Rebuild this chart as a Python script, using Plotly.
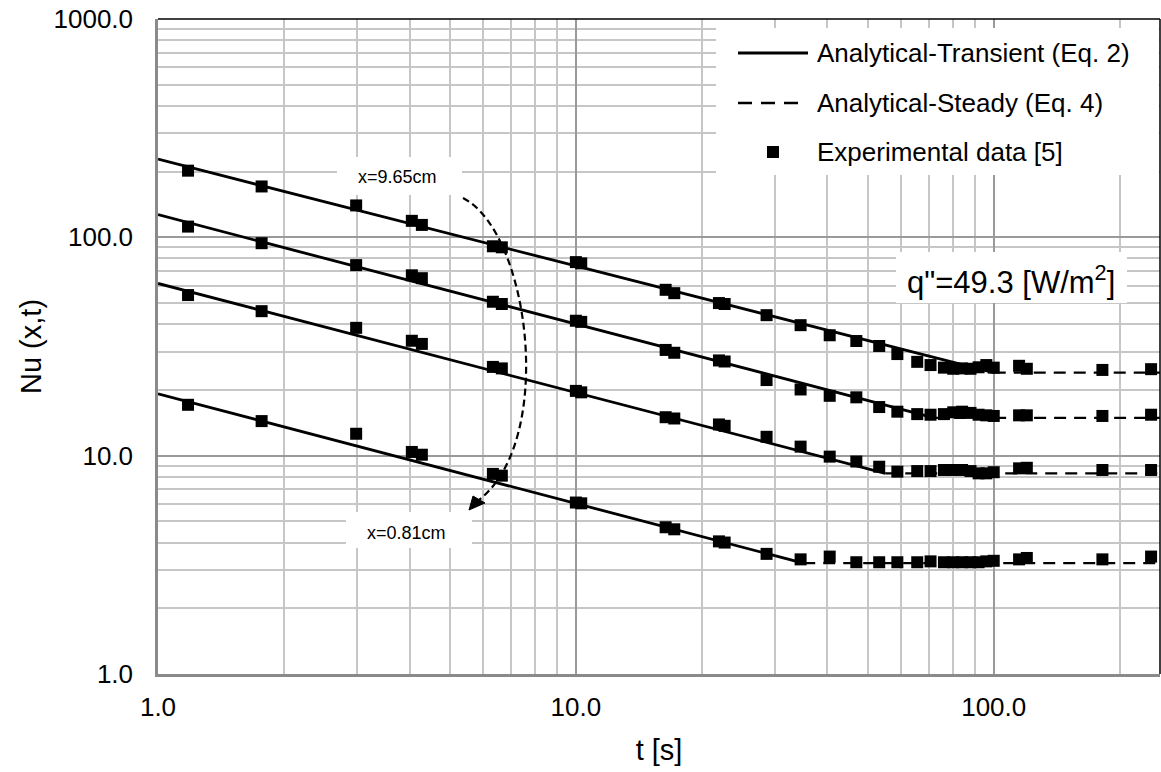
import plotly.graph_objects as go

# ---------------- data ----------------
x_tickvals = [1, 10, 100]
x_ticktext = ["1.0", "10.0", "100.0"]
y_tickvals = [1, 10, 100, 1000]
y_ticktext = ["1.0", "10.0", "100.0", "1000.0"]

# experimental times [s]
t_exp = [1.18, 1.77, 2.98, 4.05, 4.28, 6.33, 6.65, 10.0, 10.3, 16.4, 17.2, 22.0, 22.7,
         28.6, 34.5, 40.5, 46.9, 53.2, 58.8, 65.6, 70.6, 76, 80, 84, 88, 92, 96, 100,
         115, 120, 182, 238]

# experimental Nu, from top curve (x=9.65cm) to bottom curve (x=0.81cm)
nu_exp_965 = [202, 171, 140, 119, 114, 91, 90, 77, 76, 57.5, 55.5, 50, 49.5,
              44, 39.6, 35.6, 33.5, 31.8, 29.2, 26.9, 26.0, 25.3, 25.0, 25.1, 25.0, 25.4, 26.0, 25.3,
              25.8, 25.0, 24.7, 24.9]
nu_exp_b = [112, 94, 74.6, 67, 65, 50.7, 49.5, 41.5, 41.0, 30.5, 29.6, 27.3, 27.0,
            22.2, 20.1, 18.8, 18.5, 16.7, 15.9, 15.5, 15.4, 15.5, 15.8, 15.9, 15.7, 15.4, 15.3, 15.2,
            15.3, 15.3, 15.2, 15.4]
nu_exp_c = [54.4, 45.9, 38.5, 33.6, 32.5, 25.5, 25.1, 19.8, 19.5, 15.0, 14.8, 13.9, 13.7,
            12.2, 11.0, 9.9, 9.4, 8.9, 8.45, 8.5, 8.5, 8.6, 8.6, 8.6, 8.5, 8.3, 8.3, 8.4,
            8.75, 8.8, 8.6, 8.6]
nu_exp_081 = [17.1, 14.4, 12.6, 10.4, 10.1, 8.25, 8.1, 6.1, 6.05, 4.7, 4.6, 4.05, 4.0,
              3.55, 3.35, 3.45, 3.25, 3.25, 3.25, 3.25, 3.28, 3.25, 3.25, 3.25, 3.25, 3.25, 3.28, 3.3,
              3.35, 3.4, 3.35, 3.45]

# analytical transient (Eq. 2) end points
trans_t_965 = [1, 100];  trans_nu_965 = [228, 24.0]
trans_t_b = [1, 72];     trans_nu_b = [127, 14.9]
trans_t_c = [1, 55];     trans_nu_c = [61.5, 8.3]
trans_t_081 = [1, 35];   trans_nu_081 = [19.2, 3.22]

# analytical steady (Eq. 4)
steady_t_965 = [100, 250]; steady_nu_965 = [24.0, 24.0]
steady_t_b = [72, 250];    steady_nu_b = [14.9, 14.9]
steady_t_c = [55, 250];    steady_nu_c = [8.3, 8.3]
steady_t_081 = [35, 250];  steady_nu_081 = [3.22, 3.22]

legend_labels = ["Analytical-Transient (Eq. 2)", "Analytical-Steady (Eq. 4)", "Experimental data [5]"]

# ---------------- figure ----------------
W, H = 1161, 772
L, R, T, B = 158, 1, 19, 98
PW, PH = W - L - R, H - T - B
FONT = "Arial, Liberation Sans, sans-serif"


def px(x):
    return (x - L) / PW


def py(y):
    return (H - B - y) / PH


fig = go.Figure()

for tt, nn in [(trans_t_965, trans_nu_965), (trans_t_b, trans_nu_b),
               (trans_t_c, trans_nu_c), (trans_t_081, trans_nu_081)]:
    fig.add_trace(go.Scatter(x=tt, y=nn, mode="lines", line=dict(color="black", width=2.8),
                             showlegend=False, hoverinfo="skip"))

for tt, nn in [(steady_t_965, steady_nu_965), (steady_t_b, steady_nu_b),
               (steady_t_c, steady_nu_c), (steady_t_081, steady_nu_081)]:
    fig.add_trace(go.Scatter(x=tt, y=nn, mode="lines",
                             line=dict(color="black", width=2.4, dash="12px,8px"),
                             showlegend=False, hoverinfo="skip"))

for nn in [nu_exp_965, nu_exp_b, nu_exp_c, nu_exp_081]:
    fig.add_trace(go.Scatter(x=t_exp, y=nn, mode="markers",
                             marker=dict(symbol="square", size=12, color="black"),
                             showlegend=False))

shapes = []
# white boxes (hide grid)
for (x0, y0, x1, y1) in [(716, 28, 1159, 175), (896, 252, 1127, 303),
                         (337, 157, 462, 195), (346, 512, 472, 548)]:
    shapes.append(dict(type="rect", xref="paper", yref="paper", x0=px(x0), x1=px(x1),
                       y0=py(y1), y1=py(y0), fillcolor="white", line=dict(width=0), layer="above"))
# top / right border
shapes.append(dict(type="line", xref="paper", yref="paper", x0=0, x1=1, y0=1, y1=1,
                   line=dict(color="black", width=1.5), layer="above"))
shapes.append(dict(type="line", xref="paper", yref="paper", x0=1, x1=1, y0=0, y1=1,
                   line=dict(color="black", width=1.5), layer="above"))
# legend samples
shapes.append(dict(type="line", xref="paper", yref="paper", x0=px(738), x1=px(808), y0=py(53), y1=py(53),
                   line=dict(color="black", width=2.8), layer="above"))
shapes.append(dict(type="line", xref="paper", yref="paper", x0=px(738), x1=px(800), y0=py(103), y1=py(103),
                   line=dict(color="black", width=2.4, dash="14px,9px"), layer="above"))
shapes.append(dict(type="rect", xref="paper", yref="paper", x0=px(767), x1=px(779), y0=py(158), y1=py(146),
                   fillcolor="black", line=dict(width=0), layer="above"))
# curved dashed arrow
p0, p1, p2, p3 = (463, 198), (530, 232), (556, 440), (479, 500)
path = "M {},{} C {},{} {},{} {},{}".format(px(p0[0]), py(p0[1]), px(p1[0]), py(p1[1]),
                                           px(p2[0]), py(p2[1]), px(p3[0]), py(p3[1]))
shapes.append(dict(type="path", xref="paper", yref="paper", path=path,
                   line=dict(color="black", width=2.2, dash="7px,4px"), layer="above"))
tri = "M {},{} L {},{} L {},{} Z".format(px(469), py(510), px(473), py(496), px(485), py(503))
shapes.append(dict(type="path", xref="paper", yref="paper", path=tri, fillcolor="black",
                   line=dict(color="black", width=1), layer="above"))

annotations = [
    dict(xref="paper", yref="paper", x=px(815), y=py(53), text=legend_labels[0], showarrow=False,
         xanchor="left", yanchor="middle", font=dict(family=FONT, size=26, color="black")),
    dict(xref="paper", yref="paper", x=px(815), y=py(103), text=legend_labels[1], showarrow=False,
         xanchor="left", yanchor="middle", font=dict(family=FONT, size=26, color="black")),
    dict(xref="paper", yref="paper", x=px(815), y=py(152), text=legend_labels[2], showarrow=False,
         xanchor="left", yanchor="middle", font=dict(family=FONT, size=26, color="black")),
    dict(xref="paper", yref="paper", x=px(1011), y=py(280), text='q"=49.3 [W/m<sup>2</sup>]',
         showarrow=False, xanchor="center", yanchor="middle",
         font=dict(family=FONT, size=31, color="black")),
    dict(xref="paper", yref="paper", x=px(397), y=py(177), text="x=9.65cm", showarrow=False,
         xanchor="center", yanchor="middle", font=dict(family=FONT, size=18, color="black")),
    dict(xref="paper", yref="paper", x=px(406), y=py(533), text="x=0.81cm", showarrow=False,
         xanchor="center", yanchor="middle", font=dict(family=FONT, size=18, color="black")),
]

fig.update_layout(
    width=W, height=H, autosize=False,
    margin=dict(l=L, r=R, t=T, b=B, pad=0),
    paper_bgcolor="white", plot_bgcolor="white",
    font=dict(family=FONT, color="black"),
    showlegend=False,
    shapes=shapes, annotations=annotations,
)
fig.update_xaxes(
    type="log", range=[0, 2.3979],
    tickmode="array", tickvals=x_tickvals, ticktext=x_ticktext,
    tickfont=dict(family=FONT, size=26, color="black"),
    ticks="", ticklabelstandoff=8,
    showgrid=True, gridcolor="#9a9a9a", gridwidth=1.5,
    minor=dict(dtick="D1", showgrid=True, gridcolor="#c6c6c6", gridwidth=1.5, ticks=""),
    showline=True, linecolor="#8a8a8a", linewidth=2.5,
    zeroline=False,
    title=dict(text="t [s]", font=dict(family=FONT, size=29, color="black"), standoff=19),
)
fig.update_yaxes(
    type="log", range=[0, 3],
    tickmode="array", tickvals=y_tickvals, ticktext=y_ticktext,
    tickfont=dict(family=FONT, size=26, color="black"),
    ticks="", ticklabelstandoff=17,
    showgrid=True, gridcolor="#9a9a9a", gridwidth=1.5,
    minor=dict(dtick="D1", showgrid=True, gridcolor="#c6c6c6", gridwidth=1.5, ticks=""),
    showline=True, linecolor="#8a8a8a", linewidth=2.5,
    zeroline=False,
    title=dict(text="Nu (x,t)", font=dict(family=FONT, size=29, color="black"), standoff=4),
)

fig.write_html("out.html")
